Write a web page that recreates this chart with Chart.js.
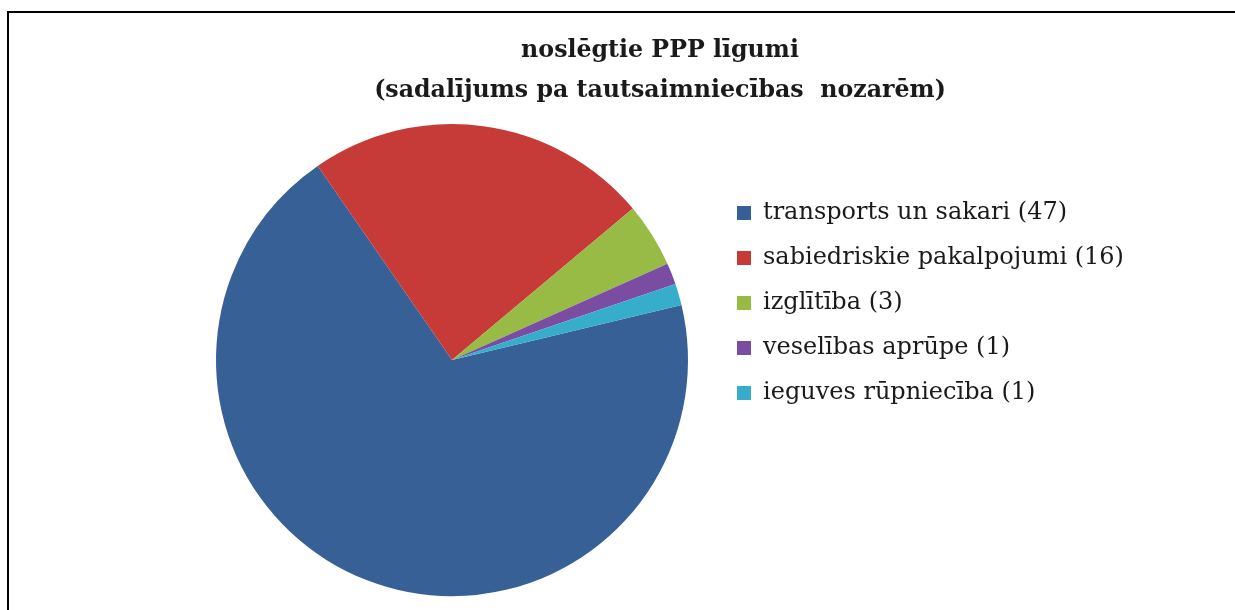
<!DOCTYPE html>
<html lang="lv">
<head>
<meta charset="UTF-8">
<title>noslēgtie PPP līgumi</title>
<script src="https://cdn.jsdelivr.net/npm/chart.js"></script>
<style>
  html, body { margin: 0; padding: 0; background: #fff; overflow: hidden; }
  #frame { position: absolute; left: 7px; top: 11px; width: 1300px; height: 700px; border: 2px solid #000; pointer-events: none; }
  #myChart { position: absolute; left: 0; top: 0; }
</style>
</head>
<body>
<canvas id="myChart" width="1235" height="610"></canvas>
<div id="frame"></div>
<script>
// data
const sectors = ['transports un sakari', 'sabiedriskie pakalpojumi', 'izglītība', 'veselības aprūpe', 'ieguves rūpniecība'];
const contracts = [47, 16, 3, 1, 1];
const sectorColors = ['#366096', '#c63b38', '#98bb45', '#7a4da3', '#36adcb'];
const titleLines = ['noslēgtie PPP līgumi', '(sadalījums pa tautsaimniecības  nozarēm)'];

const labels = sectors.map((s, i) => s + ' (' + contracts[i] + ')');

const ctx = document.getElementById('myChart').getContext('2d');
const myChart = new Chart(ctx, {
    type: 'pie',
    data: {
        labels: labels,
        datasets: [{
            data: contracts,
            backgroundColor: sectorColors,
            borderWidth: 0
        }]
    },
    options: {
        responsive: false,
        devicePixelRatio: 1,
        animation: false,
        rotation: 76.5,
        radius: 236,
        layout: {
            padding: { left: 188, right: 103, top: 8, bottom: 12 }
        },
        plugins: {
            tooltip: { enabled: false },
            title: {
                display: true,
                text: titleLines,
                color: '#1a1a1a',
                font: { family: 'DejaVu Serif', size: 23.7, weight: 'bold', lineHeight: 1.66 },
                padding: { top: 23.5, bottom: 12 }
            },
            legend: {
                position: 'right',
                maxWidth: 416,
                labels: {
                    boxWidth: 14,
                    boxHeight: 14,
                    padding: 21,
                    color: '#1a1a1a',
                    font: { family: 'DejaVu Serif', size: 24 }
                }
            }
        }
    }
});
</script>
</body>
</html>
